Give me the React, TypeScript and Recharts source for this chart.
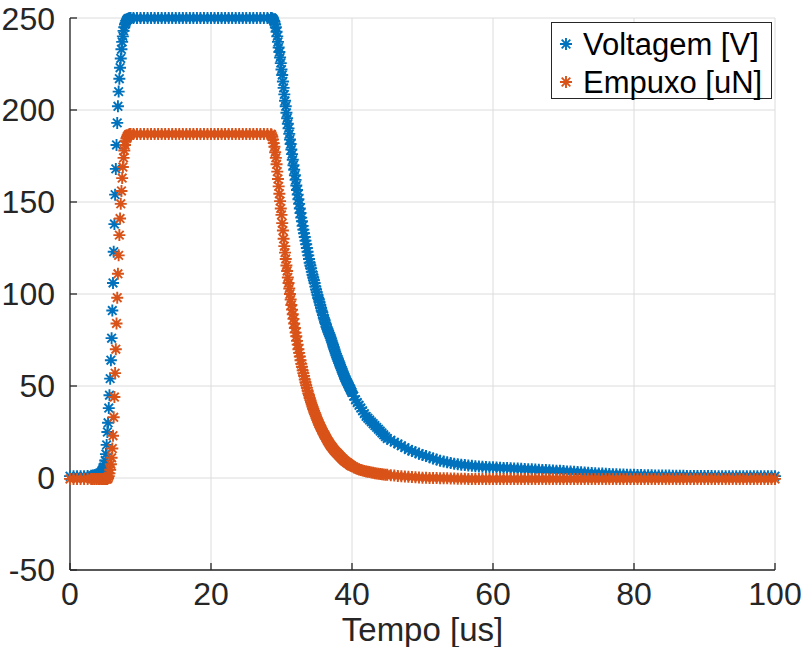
import { CartesianGrid, Legend, Scatter, ScatterChart, XAxis, YAxis } from 'recharts'

// tempo em us (passo mais fino na subida e na descida)
const tempo = [
  0, 0.5, 1, 1.5, 2, 2.5, 3,
  3.25, 3.5, 3.75, 4, 4.25, 4.5,
  4.6, 4.7, 4.8, 4.9, 5, 5.1, 5.2, 5.3, 5.4, 5.5, 5.6, 5.7, 5.8, 5.9,
  6, 6.1, 6.2, 6.3, 6.4, 6.5, 6.6, 6.7, 6.8, 6.9,
  7, 7.1, 7.2, 7.3, 7.4, 7.5, 7.6, 7.7, 7.8, 7.9,
  8, 8.1, 8.2, 8.3, 8.4, 8.5, 8.6,
  9, 9.5, 10, 10.5, 11, 11.5, 12, 12.5, 13, 13.5, 14, 14.5, 15, 15.5, 16, 16.5, 17, 17.5, 18, 18.5,
  19, 19.5, 20, 20.5, 21, 21.5, 22, 22.5, 23, 23.5, 24, 24.5, 25, 25.5, 26, 26.5, 27, 27.5, 28,
  28.5, 28.6, 28.7, 28.8, 28.9,
  29, 29.1, 29.2, 29.3, 29.4, 29.5, 29.6, 29.7, 29.8, 29.9,
  30, 30.1, 30.2, 30.3, 30.4, 30.5, 30.6, 30.7, 30.8, 30.9,
  31, 31.1, 31.2, 31.3, 31.4, 31.5, 31.6, 31.7, 31.8, 31.9,
  32, 32.1, 32.2, 32.3, 32.4, 32.5, 32.6, 32.7, 32.8, 32.9,
  33, 33.1, 33.2, 33.3, 33.4, 33.5, 33.6, 33.7, 33.8, 33.9,
  34, 34.1, 34.2, 34.3, 34.4, 34.5, 34.6, 34.7, 34.8, 34.9,
  35, 35.1, 35.2, 35.3, 35.4, 35.5, 35.6, 35.7, 35.8, 35.9,
  36, 36.1, 36.2, 36.3, 36.4, 36.5, 36.6, 36.7, 36.8, 36.9,
  37, 37.1, 37.2, 37.3, 37.4, 37.5, 37.6, 37.7, 37.8, 37.9,
  38, 38.1, 38.2, 38.3, 38.4, 38.5, 38.6, 38.7, 38.8, 38.9,
  39, 39.1, 39.2, 39.3, 39.4, 39.5, 39.6, 39.7, 39.8, 39.9,
  40,
  40.25, 40.5, 40.75, 41, 41.25, 41.5, 41.75, 42, 42.25, 42.5,
  42.75, 43, 43.25, 43.5, 43.75, 44, 44.25, 44.5, 44.75, 45,
  45.5, 46, 46.5, 47, 47.5, 48, 48.5, 49, 49.5, 50,
  50.5, 51, 51.5, 52, 52.5, 53, 53.5, 54, 54.5, 55,
  55.5, 56, 56.5, 57, 57.5, 58, 58.5, 59, 59.5, 60,
  60.5, 61, 61.5, 62, 62.5, 63, 63.5, 64, 64.5, 65,
  65.5, 66, 66.5, 67, 67.5, 68, 68.5, 69, 69.5, 70,
  70.5, 71, 71.5, 72, 72.5, 73, 73.5, 74, 74.5, 75,
  75.5, 76, 76.5, 77, 77.5, 78, 78.5, 79, 79.5, 80,
  80.5, 81, 81.5, 82, 82.5, 83, 83.5, 84, 84.5, 85,
  85.5, 86, 86.5, 87, 87.5, 88, 88.5, 89, 89.5, 90,
  90.5, 91, 91.5, 92, 92.5, 93, 93.5, 94, 94.5, 95,
  95.5, 96, 96.5, 97, 97.5, 98, 98.5, 99, 99.5, 100,
]

const voltagem = [
  1, 1, 1, 1, 1, 1.1, 1.2,
  1.3, 1.5, 1.8, 2.2, 2.8, 3.5,
  4.2, 5, 6, 7.5, 9.5, 13, 18, 25, 30, 38, 45, 54, 64, 76,
  91, 106, 123, 138, 154, 168, 181, 193, 202, 210,
  217, 223, 228, 233, 237, 240, 243, 245, 246.5, 247.5,
  248.5, 249, 249.5, 249.7, 249.8, 249.9, 250,
  250, 250, 250, 250, 250, 250, 250, 250, 250, 250, 250, 250, 250, 250, 250, 250, 250, 250, 250, 250,
  250, 250, 250, 250, 250, 250, 250, 250, 250, 250, 250, 250, 250, 250, 250, 250, 250, 250, 250,
  250, 250, 249.7, 249.3, 248.7,
  248, 246.5, 245, 242.5, 240, 237, 234, 231.5, 228.5, 225.5,
  222, 219, 215.5, 212, 208.5, 205, 202, 198.5, 195.5, 192.5,
  190, 187, 184, 181.5, 178.5, 176, 173, 170, 167.5, 164.5,
  162, 159, 156.5, 154, 151.5, 149, 146.5, 144, 141.5, 139.5,
  137, 135, 133, 131, 129, 127, 125, 123, 121, 119,
  117, 115.5, 114, 112, 110.5, 109, 107.5, 106, 104, 102.5,
  101, 99.5, 98, 97, 95.5, 94, 92.5, 91, 90, 88.5,
  87, 86, 84.5, 83.5, 82, 81, 80, 79, 78, 77,
  76, 74.8, 73.6, 72.4, 71.2, 70, 68.8, 67.6, 66.5, 65.5,
  64.5, 63.5, 62.5, 61.5, 60.5, 59.5, 58.5, 57.5, 56.5, 55.5,
  54.5, 53.7, 52.9, 52.1, 51.3, 50.5, 49.7, 48.9, 48.1, 47.3,
  46.5,
  44.5, 42.5, 41, 39.5, 38, 36.5, 35, 33.5, 32.5, 31.5,
  30.5, 29.5, 28.5, 27.5, 26.5, 25.5, 24.5, 23.5, 22.5, 21.5,
  20.5, 19.5, 18.5, 17.5, 16.5, 15.5, 14.7, 14, 13.2, 12.5,
  11.9, 11.3, 10.6, 10, 9.4, 8.9, 8.5, 8.1, 7.8, 7.5,
  7.2, 7, 6.8, 6.6, 6.4, 6.3, 6.1, 6, 5.9, 5.8,
  5.7, 5.6, 5.5, 5.4, 5.3, 5.2, 5.1, 5, 4.9, 4.8,
  4.7, 4.6, 4.5, 4.4, 4.3, 4.2, 4.1, 4, 3.9, 3.8,
  3.6, 3.5, 3.4, 3.3, 3.1, 3, 2.8, 2.7, 2.6, 2.5,
  2.4, 2.3, 2.2, 2.1, 2, 1.9, 1.85, 1.8, 1.75, 1.7,
  1.65, 1.6, 1.55, 1.5, 1.45, 1.4, 1.35, 1.3, 1.3, 1.3,
  1.25, 1.2, 1.2, 1.2, 1.15, 1.1, 1.1, 1.1, 1.1, 1.1,
  1.05, 1.05, 1, 1, 1, 1, 1, 1, 1, 1,
  1, 1, 1, 1, 1, 1, 1, 1, 1, 1,
]

const empuxo = [
  -0.5, -0.5, -0.5, -0.5, -0.5, -0.5, -0.5,
  -0.5, -0.5, -0.5, -0.5, -0.5, -0.5,
  -0.5, -0.5, -0.5, -0.5, -0.5, -0.5, -0.5, -0.5, 0, 1, 2.5, 4.5, 7.5, 11,
  16, 23, 33, 44, 57, 70, 84, 98, 111, 121,
  132, 141, 149, 156, 163, 169, 174, 178, 181, 183,
  184.5, 185.5, 186, 186.5, 186.7, 186.9, 187,
  187, 187, 187, 187, 187, 187, 187, 187, 187, 187, 187, 187, 187, 187, 187, 187, 187, 187, 187, 187,
  187, 187, 187, 187, 187, 187, 187, 187, 187, 187, 187, 187, 187, 187, 187, 187, 187, 187, 187,
  186.8, 186.5, 185.5, 184, 182,
  180, 177, 174, 170.5, 166.5, 162.5, 158.5, 154.5, 150.5, 146.5,
  143, 138.5, 134.5, 130, 126, 122.5, 119, 115.5, 112.5, 109,
  106, 103, 100, 97, 94, 91.5, 89, 86.5, 84, 81.5,
  79, 77, 74.5, 72.5, 70, 68, 66, 64, 62, 60.5,
  58.5, 57, 55.5, 53.5, 52, 50.5, 49, 47.5, 46, 45,
  43.5, 42.3, 41.1, 39.9, 38.7, 37.5, 36.5, 35.5, 34.5, 33.5,
  32.5, 31.5, 30.5, 29.6, 28.8, 28, 27.2, 26.4, 25.6, 24.8,
  24, 23.4, 22.8, 22, 21.3, 20.5, 19.9, 19.3, 18.7, 18.1,
  17.5, 17.1, 16.6, 16, 15.5, 15, 14.6, 14.2, 13.8, 13.4,
  13, 12.6, 12.2, 11.8, 11.4, 11, 10.6, 10.2, 9.9, 9.5,
  9.2, 8.9, 8.6, 8.3, 8.1, 7.8, 7.5, 7.2, 6.9, 6.7,
  6.5,
  6, 5.5, 5, 4.6, 4.3, 4.1, 3.8, 3.6, 3.4, 3.2,
  3, 2.8, 2.6, 2.4, 2.3, 2.2, 2, 1.9, 1.8, 1.7,
  1.5, 1.3, 1.1, 1, 0.8, 0.7, 0.5, 0.4, 0.3, 0.2,
  0.1, 0.05, 0, -0.05, -0.1, -0.15, -0.2, -0.25, -0.3, -0.35,
  -0.4, -0.45, -0.5, -0.5, -0.5, -0.5, -0.5, -0.5, -0.5, -0.5,
  -0.5, -0.5, -0.5, -0.5, -0.5, -0.5, -0.5, -0.5, -0.5, -0.5,
  -0.5, -0.5, -0.5, -0.5, -0.5, -0.5, -0.5, -0.5, -0.5, -0.5,
  -0.5, -0.5, -0.5, -0.5, -0.5, -0.5, -0.5, -0.5, -0.5, -0.5,
  -0.5, -0.5, -0.5, -0.5, -0.5, -0.5, -0.5, -0.5, -0.5, -0.5,
  -0.5, -0.5, -0.5, -0.5, -0.5, -0.5, -0.5, -0.5, -0.5, -0.5,
  -0.5, -0.5, -0.5, -0.5, -0.5, -0.5, -0.5, -0.5, -0.5, -0.5,
  -0.5, -0.5, -0.5, -0.5, -0.5, -0.5, -0.5, -0.5, -0.5, -0.5,
  -0.5, -0.5, -0.5, -0.5, -0.5, -0.5, -0.5, -0.5, -0.5, -0.5,
]

const xTicks = [0, 20, 40, 60, 80, 100]
const yTicks = [-50, 0, 50, 100, 150, 200, 250]

const BLUE = '#0072BD'
const ORANGE = '#D95319'
const INK = '#262626'
const FONT = '"Liberation Sans", Arial, Helvetica, sans-serif'

const voltRows = tempo.map((t, i) => ({ t, v: voltagem[i] })).filter((r) => r.v != null)
const empRows = tempo.map((t, i) => ({ t, v: empuxo[i] })).filter((r) => r.v != null)

function Asterisk({ cx, cy, color }: { cx?: number; cy?: number; color: string }) {
  if (cx == null || cy == null) return null
  const r = 6
  const d = 4.3
  return (
    <path
      d={`M${cx - r},${cy}H${cx + r}M${cx},${cy - r}V${cy + r}M${cx - d},${cy - d}L${cx + d},${cy + d}M${cx - d},${cy + d}L${cx + d},${cy - d}`}
      stroke={color}
      strokeWidth={1.9}
      fill="none"
    />
  )
}

function LegendBox() {
  const items = [
    { label: 'Voltagem [V]', color: BLUE },
    { label: 'Empuxo [uN]', color: ORANGE },
  ]
  return (
    <div
      style={{
        width: 219,
        height: 75,
        border: `1px solid ${INK}`,
        background: '#fff',
        fontFamily: FONT,
        fontSize: 31,
        color: '#000',
        lineHeight: 1,
      }}
    >
      {items.map((it, i) => (
        <div key={it.label} style={{ display: 'flex', alignItems: 'center', height: 38, marginTop: i === 0 ? 2 : 0 }}>
          <svg width={31} height={20} style={{ flex: 'none' }}>
            <Asterisk cx={14} cy={10} color={it.color} />
          </svg>
          <span style={{ whiteSpace: 'nowrap' }}>{it.label}</span>
        </div>
      ))}
    </div>
  )
}

export default function App() {
  const tickStyle = { fill: INK, fontSize: 32, fontFamily: FONT }
  const axisLine = { stroke: INK, strokeWidth: 1.3 }
  return (
    <div style={{ position: 'absolute', left: 0, top: 0, width: 801, height: 647, background: '#fff' }}>
      <ScatterChart width={801} height={647} margin={{ top: 18, right: 26, bottom: 0, left: 0 }}>
        <CartesianGrid stroke="#dcdcdc" strokeWidth={1} />
        <XAxis
          type="number"
          dataKey="t"
          domain={[0, 100]}
          ticks={xTicks}
          height={77}
          tickSize={-7}
          tickMargin={19}
          tick={tickStyle}
          axisLine={axisLine}
          tickLine={axisLine}
          label={{ value: 'Tempo [us]', position: 'insideBottom', offset: 6, fill: INK, fontSize: 33, fontFamily: FONT }}
        />
        <XAxis
          xAxisId="top"
          orientation="top"
          type="number"
          domain={[0, 100]}
          ticks={xTicks}
          height={0}
          tickSize={-7}
          tickFormatter={() => ''}
          axisLine={axisLine}
          tickLine={axisLine}
        />
        <YAxis
          type="number"
          dataKey="v"
          domain={[-50, 250]}
          ticks={yTicks}
          width={70}
          tickSize={-7}
          tickMargin={22}
          tick={tickStyle}
          axisLine={axisLine}
          tickLine={axisLine}
        />
        <YAxis
          yAxisId="right"
          orientation="right"
          type="number"
          domain={[-50, 250]}
          ticks={yTicks}
          width={0}
          tickSize={-7}
          tickFormatter={() => ''}
          axisLine={axisLine}
          tickLine={axisLine}
        />
        <Scatter
          name="Voltagem [V]"
          data={voltRows}
          isAnimationActive={false}
          shape={(p: any) => <Asterisk cx={p.cx} cy={p.cy} color={BLUE} />}
        />
        <Scatter
          name="Empuxo [uN]"
          data={empRows}
          isAnimationActive={false}
          shape={(p: any) => <Asterisk cx={p.cx} cy={p.cy} color={ORANGE} />}
        />
        <Legend
          layout="horizontal"
          verticalAlign="middle"
          align="center"
          content={() => <LegendBox />}
          wrapperStyle={{ top: 22, left: 551, width: 'auto', height: 'auto' }}
        />
      </ScatterChart>
    </div>
  )
}
